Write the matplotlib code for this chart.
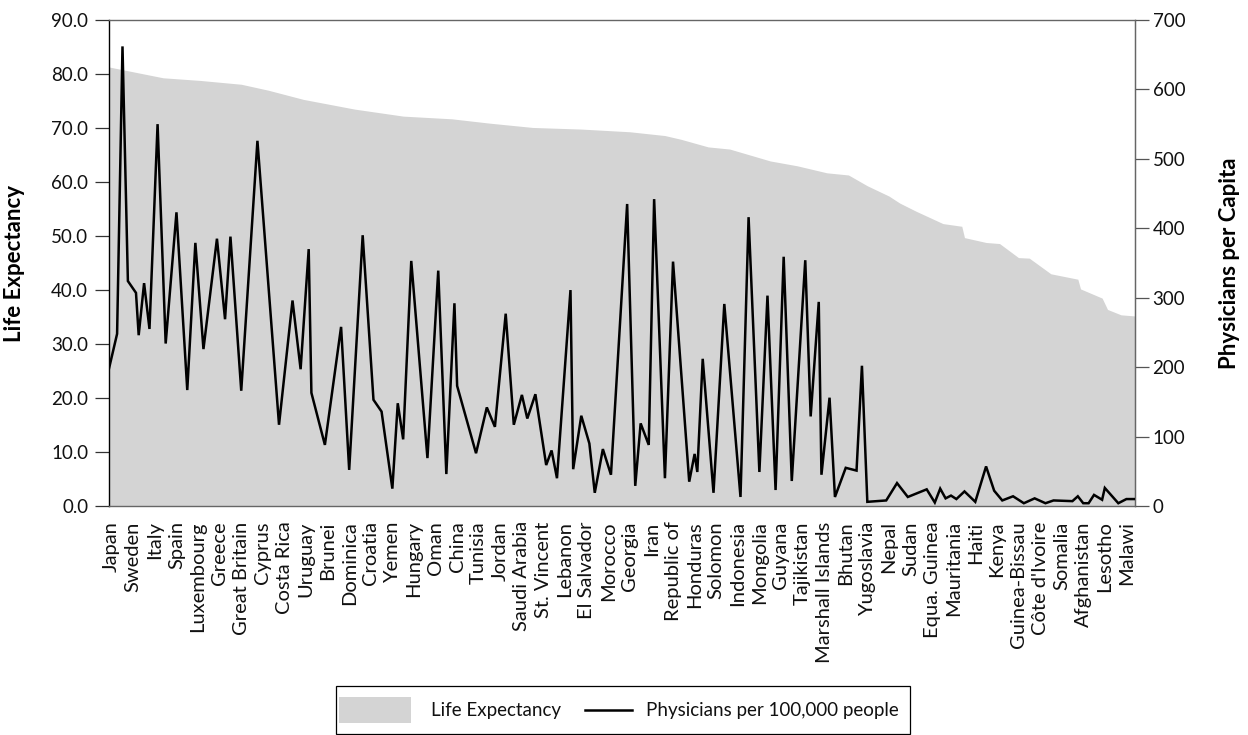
import numpy as np
import matplotlib
matplotlib.use("Agg")
import matplotlib.pyplot as plt
from matplotlib.patches import Rectangle, Patch
from matplotlib.lines import Line2D
from matplotlib.legend_handler import HandlerBase
from matplotlib.ticker import FormatStrFormatter

# ---------------- data ----------------
countries = ["Japan", "Sweden", "Italy", "Spain", "Luxembourg", "Greece", "Great Britain",
             "Cyprus", "Costa Rica", "Uruguay", "Brunei", "Dominica", "Croatia", "Yemen",
             "Hungary", "Oman", "China", "Tunisia", "Jordan", "Saudi Arabia", "St. Vincent",
             "Lebanon", "El Salvador", "Morocco", "Georgia", "Iran", "Republic of",
             "Honduras", "Solomon", "Indonesia", "Mongolia", "Guyana", "Tajikistan",
             "Marshall Islands", "Bhutan", "Yugoslavia", "Nepal", "Sudan", "Equa. Guinea",
             "Mauritania", "Haiti", "Kenya", "Guinea-Bissau", "Côte d'Ivoire", "Somalia",
             "Afghanistan", "Lesotho", "Malawi"]
label_every = 8          # one labelled country every 8 ranks
n_ranks = 380

# life expectancy (left axis), by country rank
le_rank = [0, 9, 20, 34, 49, 59, 72, 91, 109, 127, 141, 157, 175, 193, 206, 212, 222, 230,
           245, 255, 266, 274, 281, 289, 293, 299, 309, 316, 317, 325, 330, 337, 341, 349,
           359, 360, 368, 370, 375, 380]
life_expectancy = [81.3, 80.4, 79.3, 78.8, 78.1, 77.0, 75.3, 73.5, 72.2, 71.7, 70.9, 70.1,
                   69.8, 69.3, 68.6, 67.9, 66.5, 66.1, 63.9, 63.0, 61.7, 61.3, 59.3, 57.4,
                   56.1, 54.6, 52.3, 51.8, 49.7, 48.8, 48.6, 46.0, 45.9, 43.0, 42.0, 40.2,
                   38.5, 36.4, 35.4, 35.2]

# physicians per 100,000 people (right axis), by country rank
phys_rank = [0, 3, 5, 7, 10, 11, 13, 15, 18, 21, 25, 29, 32, 35, 40, 43, 45, 49, 55, 63,
             68, 71, 74, 75, 80, 86, 89, 94, 98, 101, 105, 107, 109, 112, 118, 122, 125,
             128, 129, 136, 140, 143, 147, 150, 153, 155, 158, 162, 164, 166, 171, 172,
             175, 178, 180, 183, 186, 192, 195, 197, 200, 202, 206, 209, 215, 217, 218,
             220, 224, 228, 234, 237, 241, 244, 247, 250, 253, 258, 260, 263, 264, 267,
             269, 273, 277, 279, 281, 288, 292, 296, 303, 306, 308, 310, 312, 314, 317,
             321, 325, 328, 331, 335, 339, 343, 347, 350, 357, 359, 361, 363, 365, 368,
             369, 374, 377, 380]
physicians = [198, 248, 662, 324, 307, 246, 321, 255, 550, 234, 423, 167, 379, 226, 385,
              269, 388, 166, 526, 117, 296, 197, 370, 163, 88, 258, 52, 390, 153, 136, 25,
              148, 96, 353, 69, 339, 46, 292, 173, 76, 142, 114, 277, 117, 160, 126, 161,
              59, 80, 40, 311, 53, 130, 90, 19, 82, 45, 435, 29, 119, 88, 442, 40, 352, 35,
              75, 49, 212, 19, 291, 13, 416, 49, 303, 23, 359, 36, 354, 129, 294, 45, 156,
              13, 55, 51, 202, 6, 8, 33, 13, 24, 5, 25, 11, 15, 10, 21, 6, 57, 22, 8, 14, 4,
              11, 4, 8, 7, 14, 4, 4, 16, 9, 26, 4, 10, 10]

left_ticks = list(range(0, 91, 10))
right_ticks = list(range(0, 701, 100))

# ---------------- style ----------------
plt.rcParams['font.family'] = ['Lato', 'DejaVu Sans']
FS = 13.5
XFS = 14.5
LFS = 16
FILL = '#d4d4d4'

W, H = 1248, 735
fig = plt.figure(figsize=(W / 100, H / 100), dpi=100)
ax = fig.add_axes([109 / W, 229 / H, (1134.5 - 109) / W, 486 / H])

ax.fill_between(le_rank, life_expectancy, 0, color=FILL, linewidth=0, zorder=1)
ax.set_xlim(0, n_ranks)
ax.set_ylim(0, 90)
ax.set_yticks(left_ticks)
ax.yaxis.set_major_formatter(FormatStrFormatter('%.1f'))
label_rank = [1 + label_every * i for i in range(len(countries))]
ax.set_xticks(label_rank)
ax.set_xticklabels(countries, rotation=90, fontsize=XFS, color='#111111')
ax.tick_params(axis='x', length=0, pad=11)
ax.tick_params(axis='y', length=10, width=0.9, color='#333333', pad=5, labelsize=FS,
               labelcolor='#111111')

for side in ['top', 'bottom', 'right']:
    ax.spines[side].set_color('#666666')
    ax.spines[side].set_linewidth(1.0)
ax.spines['left'].set_color('black')
ax.spines['left'].set_linewidth(1.0)

ax.set_ylabel('Life Expectancy', fontsize=LFS, fontweight='bold')
ax.yaxis.set_label_coords((25 - 109) / 1025.5, 0.5)

ax2 = ax.twinx()
ax2.plot(phys_rank, physicians, color='black', linewidth=1.8, solid_joinstyle='miter', zorder=3)
ax2.set_ylim(0, 700)
ax2.set_yticks(right_ticks)
ax2.tick_params(axis='y', length=10, width=0.9, color='#555555', pad=3, labelsize=FS,
                labelcolor='#111111')
for side in ['top', 'bottom', 'left']:
    ax2.spines[side].set_visible(False)
ax2.spines['right'].set_color('#666666')
ax2.set_ylabel('Physicians per Capita', fontsize=LFS, fontweight='bold', rotation=90)
ax2.yaxis.set_label_coords((1219 - 109) / 1025.5, 0.5)


# ---------------- legend ----------------
class WidePatchHandler(HandlerBase):
    def create_artists(self, legend, orig_handle, xdescent, ydescent, width, height,
                       fontsize, trans):
        r = Rectangle((-xdescent - 0.4 * fontsize, -ydescent), width, height,
                      facecolor=FILL, edgecolor='none', transform=trans)
        return [r]


class ShortLineHandler(HandlerBase):
    def create_artists(self, legend, orig_handle, xdescent, ydescent, width, height,
                       fontsize, trans):
        y = height / 2 - ydescent
        ln = Line2D([-xdescent + width * 0.33, -xdescent + width], [y, y],
                    color='black', linewidth=1.8, transform=trans)
        return [ln]


h_fill = Patch(facecolor=FILL)
h_line = Line2D([], [], color='black', linewidth=1.8)
leg = fig.legend([h_fill, h_line], ['Life Expectancy', 'Physicians per 100,000 people'],
                 ncol=2, loc='lower center', bbox_to_anchor=(622.5 / W, 1 / H),
                 frameon=True, fancybox=False, edgecolor='black', framealpha=1,
                 fontsize=FS, handlelength=3.8, handleheight=1.7, handletextpad=0.7,
                 columnspacing=0.0, borderpad=0.6, borderaxespad=0,
                 handler_map={Patch: WidePatchHandler(), Line2D: ShortLineHandler()})
leg.get_frame().set_linewidth(0.9)
for t in leg.get_texts():
    t.set_color('#111111')

fig.savefig('out.png', dpi=100)
